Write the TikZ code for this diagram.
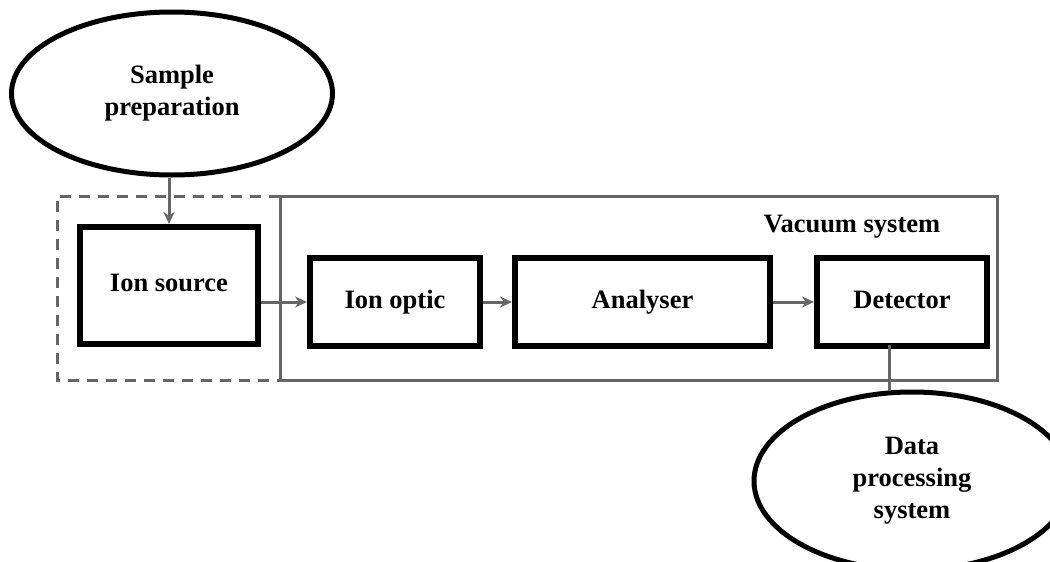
\documentclass[tikz,border=0pt]{standalone}
\usepackage{fontspec}
\setmainfont{Liberation Serif}
\usetikzlibrary{arrows.meta,shapes.geometric}
\begin{document}
\begin{tikzpicture}[x=1pt,y=-1pt,
  lbl/.style={font=\fontsize{26.5}{32}\selectfont\bfseries,align=center},
  blk/.style={draw=black,line width=6pt,inner sep=0pt,lbl,text height=18pt,text depth=6pt},
  oval/.style={draw=black,line width=5pt,ellipse,inner sep=0pt,lbl},
  conn/.style={draw=black!60,line width=3pt},
  arr/.style={conn,-{Stealth[length=12pt,width=11pt]}},
  frame/.style={draw=black!60,line width=3pt}]
\useasboundingbox (0,0) rectangle (1050,562);
\clip (0,0) rectangle (1050,562);
% frames
\draw[frame] (280,196) rectangle (997,380);
\draw[frame,dash pattern=on 11pt off 8pt] (280,196) -- (57,196) -- (57,380) -- (280,380);
\node[lbl,anchor=center] (vac) at (852,227) {Vacuum system};
% blocks
\node[blk,minimum width=178pt,minimum height=117pt] (src) at (169,285.5) {Ion source};
\node[blk,minimum width=170pt,minimum height=88pt] (opt) at (395,302) {Ion optic};
\node[blk,minimum width=255pt,minimum height=88pt] (ana) at (642.5,302) {Analyser};
\node[blk,minimum width=170pt,minimum height=88pt] (det) at (902,302) {Detector};
% ellipses
\node[oval,minimum width=321pt,minimum height=163pt] (prep) at (172,93.5) {Sample\\preparation};
\node[oval,minimum width=316pt,minimum height=178pt] (data) at (912,481) {Data\\processing\\system};
% connectors
\draw[arr] (prep.south -| src.north) -- (src.north);
\draw[arr] (src.east |- opt.west) -- (opt.west);
\draw[arr] (opt.east) -- (ana.west);
\draw[arr] (ana.east) -- (det.west);
\coordinate (dbot) at (889,345);
\draw[conn] (dbot) -- (dbot |- data.north);
\end{tikzpicture}
\end{document}
